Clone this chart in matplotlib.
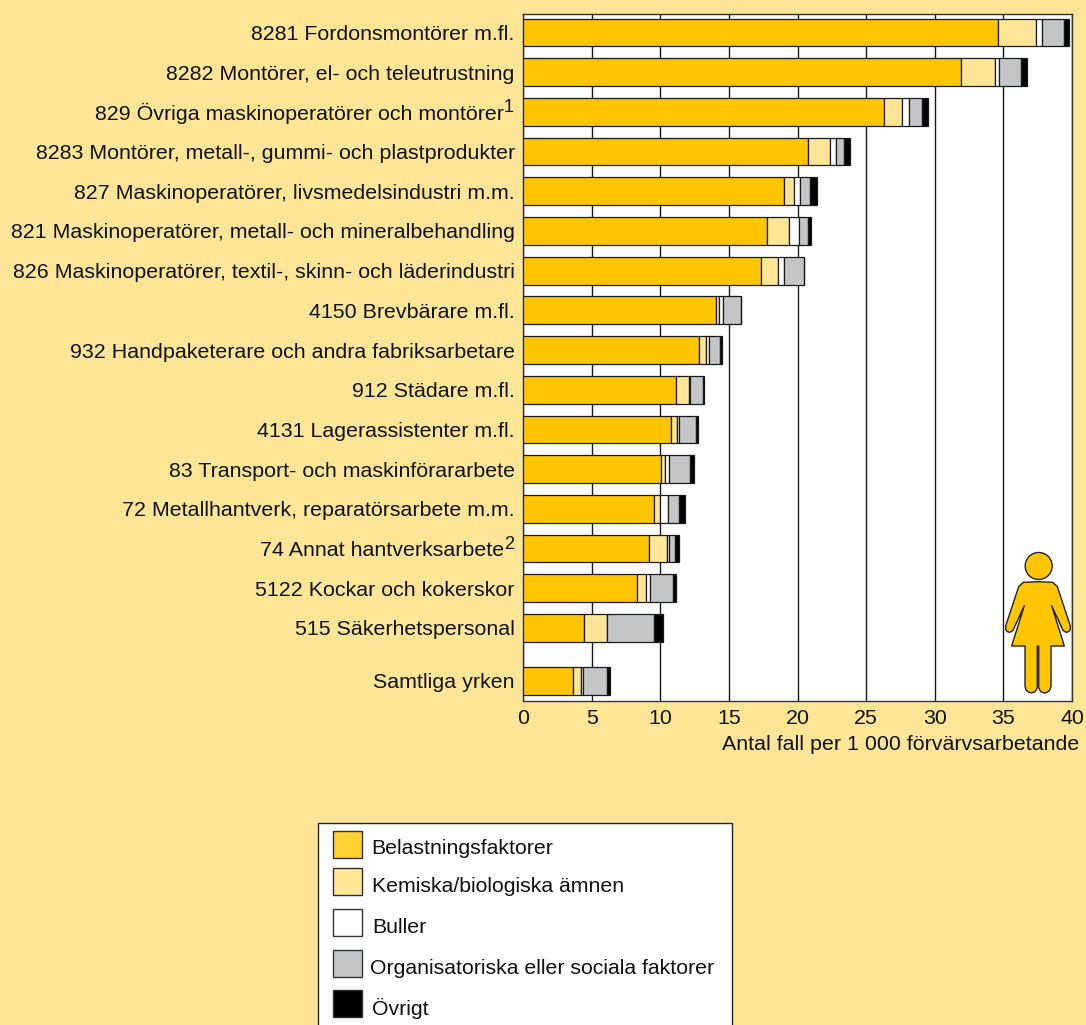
#!/usr/bin/env python
"""
Arbetsorsakade besvär per yrke, kvinnor
"""
import numpy as np
import matplotlib
matplotlib.use("Agg")
import matplotlib.pyplot as plt
from matplotlib.patches import Rectangle, Circle, Polygon

plt.rcParams['font.family'] = ['Liberation Sans', 'DejaVu Sans']

yrken = ['8281 Fordonsmontörer m.fl.',
         '8282 Montörer, el- och teleutrustning',
         '829 Övriga maskinoperatörer och montörer',
         '8283 Montörer, metall-, gummi- och plastprodukter',
         '827 Maskinoperatörer, livsmedelsindustri m.m.',
         '821 Maskinoperatörer, metall- och mineralbehandling',
         '826 Maskinoperatörer, textil-, skinn- och läderindustri',
         '4150 Brevbärare m.fl.',
         '932 Handpaketerare och andra fabriksarbetare',
         '912 Städare m.fl.',
         '4131 Lagerassistenter m.fl.',
         '83 Transport- och maskinförararbete',
         '72 Metallhantverk, reparatörsarbete m.m.',
         '74 Annat hantverksarbete',
         '5122 Kockar och kokerskor',
         '515 Säkerhetspersonal',
         'Samtliga yrken']
fotnoter = {2: '1', 13: '2'}

belastning = [34.6, 31.9, 26.3, 20.8, 19.0, 17.75, 17.35, 14.08, 12.8, 11.17, 10.78, 10.07, 9.51, 9.15, 8.32, 4.41, 3.63]
kemiska = [2.8, 2.5, 1.3, 1.6, 0.75, 1.6, 1.2, 0.22, 0.55, 0.89, 0.42, 0.31, 0.44, 1.31, 0.63, 1.69, 0.56]
buller = [0.4, 0.3, 0.5, 0.4, 0.4, 0.75, 0.5, 0.26, 0.2, 0.1, 0.2, 0.25, 0.6, 0.17, 0.27, 0.03, 0.15]
organisatoriska = [1.6, 1.6, 1.0, 0.6, 0.75, 0.65, 1.4, 1.29, 0.82, 0.94, 1.2, 1.57, 0.85, 0.46, 1.7, 3.43, 1.77]
ovrigt = [0.4, 0.4, 0.4, 0.45, 0.5, 0.2, 0.05, 0.05, 0.15, 0.08, 0.12, 0.23, 0.37, 0.29, 0.25, 0.61, 0.22]

serier = [belastning, kemiska, buller, organisatoriska, ovrigt]
namn = ['Belastningsfaktorer', 'Kemiska/biologiska ämnen', 'Buller',
        'Organisatoriska eller sociala faktorer', 'Övrigt']
farger = ['#FFC600', '#FFE697', '#FFFFFF', '#C4C5C7', '#000000']
bakgrund = '#FFE697'
W, H = 1086, 1025

fig = plt.figure(figsize=(W / 100, H / 100), dpi=100, facecolor=bakgrund)
ax = fig.add_axes([523.0 / W, 1 - 701.0 / H, 549.0 / W, 687.0 / H])

# last row sits a bit further down
y = np.arange(len(yrken), dtype=float)
y[-1] += 0.33

left = np.zeros(len(yrken))
for s, c in zip(serier, farger):
    ax.barh(y, s, left=left, height=0.7, color=c, edgecolor='#1a1a1a', linewidth=0.9, zorder=3)
    left = left + np.array(s)

ax.set_xlim(0, 40)
ax.set_ylim(16.84, -0.466)
ax.set_xticks(range(0, 41, 5))
ax.set_yticks(y)
# en space leaves room for the footnote digit
ax.set_yticklabels([t + '\u2002' if i in fotnoter else t for i, t in enumerate(yrken)])
ax.xaxis.grid(True, color='#1a1a1a', linewidth=1.0, zorder=1)
ax.set_axisbelow(True)
ax.tick_params(axis='y', length=0, pad=6, labelsize=15.4, labelcolor='#111111')
ax.tick_params(axis='x', length=0, pad=6, labelsize=15.4, labelcolor='#111111')
for sp in ax.spines.values():
    sp.set_color('#333333')
    sp.set_linewidth(1.0)

for i, f in fotnoter.items():
    ax.annotate(f, xy=(0, y[i]), xytext=(-6.5, 0), textcoords='offset points', ha='right',
                va='baseline', fontsize=13, color='#111111', annotation_clip=False)

# overlay in pixel coordinates for the legend box and the figure icon
ov = fig.add_axes([0, 0, 1, 1], facecolor='none')
ov.set_xlim(0, W)
ov.set_ylim(H, 0)
ov.axis('off')

ov.text(1079, 745, 'Antal fall per 1 000 förvärvsarbetande', ha='right', va='center',
        fontsize=15.4, color='#111111')

ov.add_patch(Rectangle((317.5, 822.7), 414.5, 220, facecolor='white', edgecolor='#222222',
                       linewidth=1.0, clip_on=True))
leg_farger = ['#FFD130', '#FFE697', '#FFFFFF', '#C4C5C7', '#000000']
leg_box = [(332.7, 830.7), (332.7, 867.7), (333.3, 909), (333.3, 950), (332.7, 990)]
leg_text = [(371.7, 848.5), (371.7, 886), (372, 927.5), (370, 968.5), (371.7, 1008)]
for n, c, b, t in zip(namn, leg_farger, leg_box, leg_text):
    ov.add_patch(Rectangle(b, 29, 27, facecolor=c, edgecolor='#333333', linewidth=1.0))
    ov.text(t[0], t[1], n, ha='left', va='center', fontsize=15.3, color='#111111')

# woman icon, traced half and mirrored
halva = [(174, 125), (130, 127), (116, 140), (77, 258), (77, 268), (82, 275), (90, 277),
         (99, 271), (133, 197), (95, 318), (135, 318), (135, 440), (139, 451), (147, 457),
         (155, 459), (165, 455), (171, 446), (172, 440), (172, 318)]
kropp = halva + [(2 * 174 - a, b) for a, b in halva[::-1]]
kropp = [(980 + a / 3, 540 + b / 3) for a, b in kropp]
ov.add_patch(Polygon(kropp, closed=True, facecolor='#FFC600', edgecolor='#222222',
                     linewidth=1.0, joinstyle='round'))
ov.add_patch(Circle((1038.7, 566), 13.5, facecolor='#FFC600', edgecolor='#222222', linewidth=1.0))

fig.savefig('out.png', dpi=100, facecolor=bakgrund)
